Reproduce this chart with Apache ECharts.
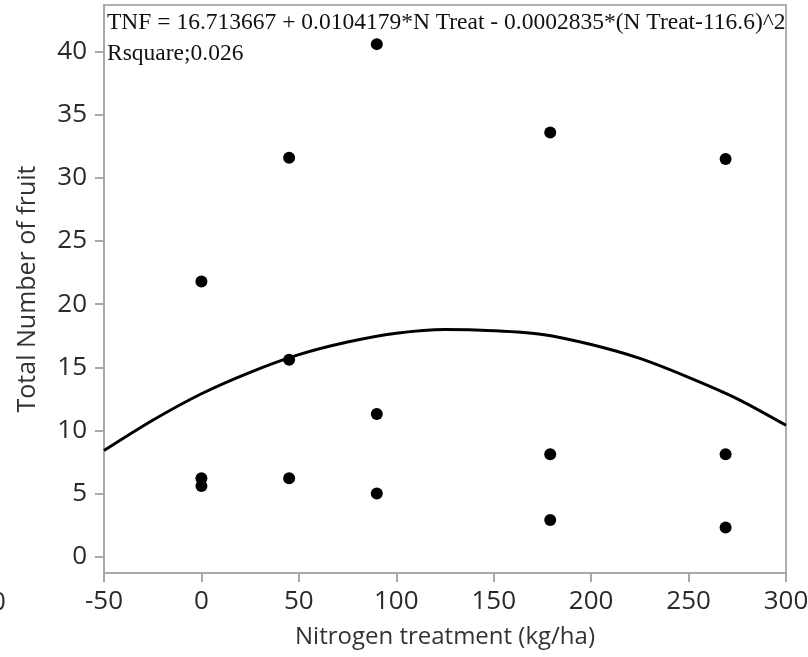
<!DOCTYPE html>
<html>
<head>
<meta charset="utf-8">
<script src="https://cdn.jsdelivr.net/npm/echarts@6/dist/echarts.min.js"></script>
<style>html,body{margin:0;padding:0;background:#fff}#c{width:808px;height:657px}</style>
</head>
<body>
<div id="c"></div>
<script>
const nTreat = [0, 0, 0, 45, 45, 45, 90, 90, 90, 179, 179, 179, 269, 269, 269];
const fruit  = [21.8, 6.2, 5.6, 31.6, 15.6, 6.2, 40.6, 11.3, 5.0, 33.6, 8.1, 2.9, 31.5, 8.1, 2.3];
// Fitted curve
const fitX = [-50, -25, 0, 25, 50, 75, 100, 125, 150, 175, 200, 225, 250, 275, 300];
const fitY = [8.4, 10.8, 12.9, 14.6, 16.0, 17.0, 17.7, 18.0, 17.9, 17.6, 16.8, 15.7, 14.2, 12.5, 10.4];
// Tick labels
const yTicks = [0, 5, 10, 15, 20, 25, 30, 35, 40];
const eqText = 'TNF = 16.713667 + 0.0104179*N Treat - 0.0002835*(N Treat-116.6)^2';
const rsqText = 'Rsquare;0.026';
const xTitle = 'Nitrogen treatment (kg/ha)';
const yTitle = 'Total Number of fruit';

const chart = echarts.init(document.getElementById('c'));
const axisFont = {fontFamily: 'Open Sans', fontSize: 26, color: '#2a2a2a'};
chart.setOption({
  animation: false,
  backgroundColor: '#fff',
  grid: {left: 104, right: 22, top: 5, bottom: 84, outerBoundsMode: 'none', containLabel: false,
         show: true, borderColor: '#b0b0b0', borderWidth: 2},
  xAxis: {
    type: 'value', min: -50, max: 300, interval: 50,
    name: xTitle, nameLocation: 'middle', nameGap: 52,
    nameTextStyle: {fontFamily: 'Open Sans', fontSize: 24, color: '#333'},
    axisLine: {onZero: false, lineStyle: {color: '#a8a8a8', width: 2}},
    axisTick: {length: 9, lineStyle: {color: '#a8a8a8', width: 2}},
    axisLabel: Object.assign({margin: 16, hideOverlap: false}, axisFont),
    splitLine: {show: false}
  },
  yAxis: {
    type: 'value', min: -1.3, max: 43.7,
    name: yTitle, nameLocation: 'middle', nameGap: 64,
    nameTextStyle: {fontFamily: 'Open Sans', fontSize: 25, color: '#333'},
    axisLine: {onZero: false, lineStyle: {color: '#a8a8a8', width: 2}},
    axisTick: {length: 9, customValues: yTicks, lineStyle: {color: '#a8a8a8', width: 2}},
    axisLabel: Object.assign({margin: 17, customValues: yTicks}, axisFont),
    splitLine: {show: false}
  },
  series: [
    {
      type: 'line', data: fitX.map((x, i) => [x, fitY[i]]), smooth: 0.3,
      showSymbol: false, lineStyle: {color: '#000', width: 3}, z: 2
    },
    {
      type: 'scatter', data: nTreat.map((x, i) => [x, fruit[i]]),
      symbolSize: 12, itemStyle: {color: '#000', opacity: 1}, z: 3
    }
  ],
  graphic: [
    {type: 'text', left: 107, top: 11, style: {text: eqText, font: '23.5px "Liberation Serif"', fill: '#111'}},
    {type: 'text', left: 107, top: 42, style: {text: rsqText, font: '23.5px "Liberation Serif"', fill: '#111'}},
    {type: 'text', left: -9, top: 590, style: {text: '0', font: '26px "Open Sans"', fill: '#2a2a2a'}}
  ]
});
</script>
</body>
</html>
